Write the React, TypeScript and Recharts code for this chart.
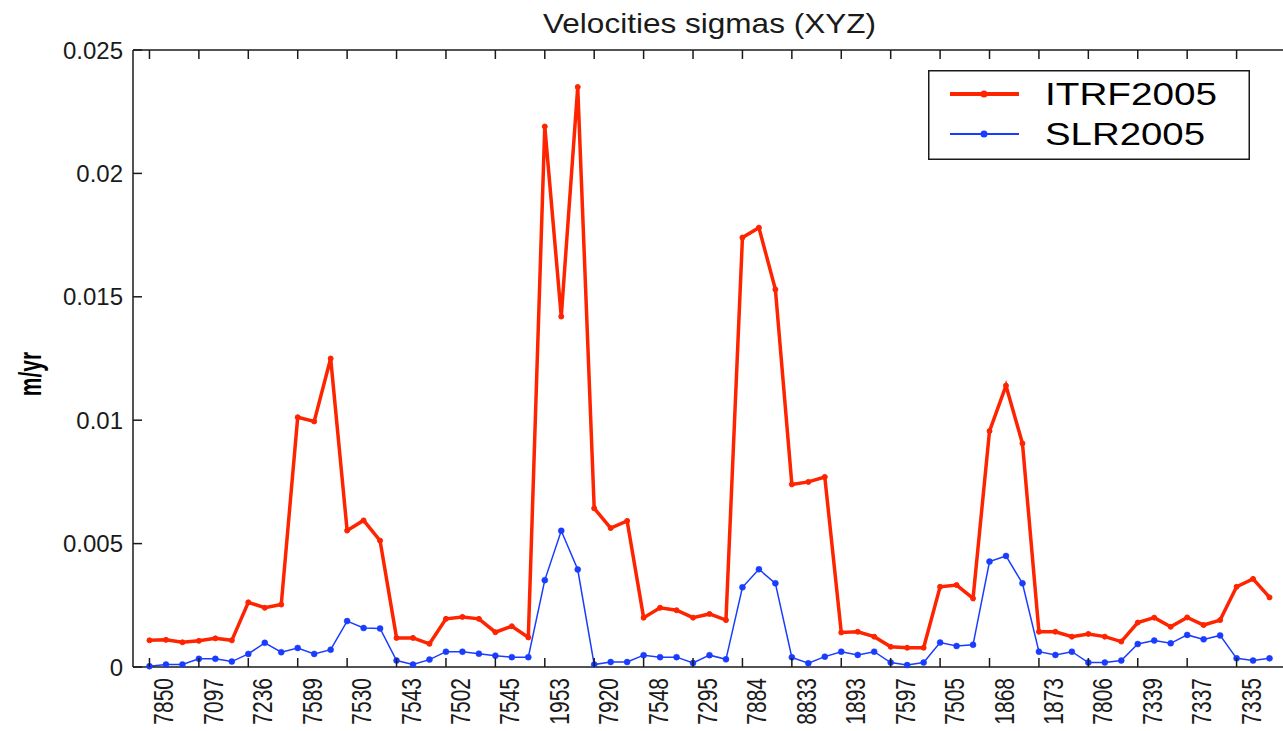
import React from 'react'
import { LineChart, Line, XAxis, YAxis, Legend } from 'recharts'

// station codes shown under every third point
const stations = ['7850', '7097', '7236', '7589', '7530', '7543', '7502', '7545', '1953', '7920', '7548', '7295',
    '7884', '8833', '1893', '7597', '7505', '1868', '1873', '7806', '7339', '7337', '7335']

const itrf2005 = [
    0.00108, 0.0011, 0.001, 0.00106, 0.00116, 0.00108, 0.00262, 0.0024, 0.00253, 0.01012,
    0.00995, 0.0125, 0.00553, 0.00594, 0.00512, 0.00118, 0.00118, 0.00094, 0.00195, 0.00203,
    0.00195, 0.00141, 0.00165, 0.0012, 0.0219, 0.0142, 0.0235, 0.00643, 0.00563, 0.00592,
    0.002, 0.0024, 0.0023, 0.002, 0.00215, 0.0019, 0.0174, 0.0178, 0.0153, 0.0074,
    0.0075, 0.0077, 0.0014, 0.00143, 0.00123, 0.00082, 0.00078, 0.00078, 0.00325, 0.00332,
    0.00278, 0.00956, 0.0114, 0.00906, 0.00143, 0.00143, 0.00123, 0.00134, 0.00123, 0.00103,
    0.0018, 0.002, 0.00163, 0.00201, 0.0017, 0.0019, 0.00325, 0.00357, 0.00282,
]

const slr2005 = [
    0.00003, 0.0001, 0.0001, 0.00033, 0.00033, 0.00022, 0.00053, 0.00098, 0.0006, 0.00077,
    0.00053, 0.0007, 0.00186, 0.00158, 0.00156, 0.00026, 0.0001, 0.0003, 0.00062, 0.00062,
    0.00054, 0.00046, 0.0004, 0.0004, 0.00352, 0.00552, 0.00395, 0.0001, 0.0002, 0.0002,
    0.00048, 0.0004, 0.0004, 0.00016, 0.00048, 0.00031, 0.00323, 0.00396, 0.00339, 0.00039,
    0.00015, 0.00042, 0.00062, 0.00049, 0.00062, 0.00018, 0.00008, 0.00018, 0.00099, 0.00085,
    0.0009, 0.00427, 0.0045, 0.00339, 0.00062, 0.00049, 0.00062, 0.00018, 0.00018, 0.00026,
    0.00093, 0.00107, 0.00096, 0.0013, 0.00112, 0.00128, 0.00035, 0.00026, 0.00035,
]

const yTicks = [0, 0.005, 0.01, 0.015, 0.02, 0.025]

const data = itrf2005.map((v, i) => ({ idx: i + 1, itrf: v, slr: slr2005[i] }))
const xTicks = stations.map((_, k) => 1 + 3 * k)

const RED = '#ff2400'
const BLUE = '#1a3cff'
const INK = '#1a1a1a'
const FONT = '"Liberation Sans", Arial, sans-serif'

const BottomTick = (props: any) => {
    const { x, y, payload } = props
    const label = stations[Math.round((payload.value - 1) / 3)]
    return (
        <g>
            <line x1={x} y1={y} x2={x} y2={y - 9} stroke={INK} strokeWidth={1.5} />
            <text transform={`translate(${x + 24},${y + 11}) scale(1.3,1) rotate(-90)`} textAnchor="end"
                fontSize={21} fontFamily={FONT} fill={INK}>{label}</text>
        </g>
    )
}

const TopTick = (props: any) => {
    const { x, y } = props
    return <line x1={x} y1={y} x2={x} y2={y + 9} stroke={INK} strokeWidth={1.5} />
}

const LeftTick = (props: any) => {
    const { x, y, payload } = props
    return (
        <g>
            <line x1={x} y1={y} x2={x + 9} y2={y} stroke={INK} strokeWidth={1.5} />
            <text x={x - 10} y={y} dy="0.36em" textAnchor="end" fontSize={24} fontFamily={FONT} fill={INK}>
                {String(payload.value)}
            </text>
        </g>
    )
}

const RightTick = (props: any) => {
    const { x, y } = props
    return <line x1={x} y1={y} x2={x - 9} y2={y} stroke={INK} strokeWidth={1.5} />
}

const LegendBox = (props: any) => {
    const items = props.payload || []
    const widths = [172, 160]
    return (
        <svg width={322} height={90}>
            <rect x={0.75} y={0.75} width={320.5} height={88.5} fill="#fff" stroke={INK} strokeWidth={1.5} />
            {items.map((it: any, i: number) => {
                const cy = 24 + i * 40
                return (
                    <g key={it.value}>
                        <line x1={22} x2={91} y1={cy} y2={cy} stroke={it.color} strokeWidth={i === 0 ? 4 : 2} />
                        <circle cx={56} cy={cy} r={3.5} fill={it.color} />
                        <text x={117} y={cy + 11} fontSize={31} fontFamily={FONT} fill="#000"
                            textLength={widths[i]} lengthAdjust="spacingAndGlyphs">{it.value}</text>
                    </g>
                )
            })}
        </svg>
    )
}

const App = () => {
    return (
        <div style={{ position: 'absolute', left: 0, top: 0, width: 1283, height: 731, overflow: 'hidden', background: '#fff' }}>
            <LineChart width={1300} height={731} data={data} margin={{ top: 49, right: 13, bottom: 63, left: 132 }}>
                <XAxis dataKey="idx" type="number" domain={[0, 70]} ticks={xTicks} interval={0} height={1}
                    tickSize={0} tickMargin={0} tickLine={false} axisLine={{ stroke: INK, strokeWidth: 1.5 }} tick={<BottomTick />} />
                <XAxis xAxisId="top" orientation="top" dataKey="idx" type="number" domain={[0, 70]} ticks={xTicks} interval={0}
                    height={1} tickSize={0} tickMargin={0} tickLine={false} axisLine={{ stroke: INK, strokeWidth: 1.5 }} tick={<TopTick />} />
                <YAxis type="number" domain={[0, 0.025]} ticks={yTicks} interval={0} width={1}
                    tickSize={0} tickMargin={0} tickLine={false} axisLine={{ stroke: INK, strokeWidth: 1.5 }} tick={<LeftTick />} />
                <YAxis yAxisId="right" orientation="right" type="number" domain={[0, 0.025]} ticks={yTicks} interval={0} width={1}
                    tickSize={0} tickMargin={0} tickLine={false} axisLine={{ stroke: INK, strokeWidth: 1.5 }} tick={<RightTick />} />
                <Legend layout="vertical" align="center" verticalAlign="middle" content={<LegendBox />}
                    wrapperStyle={{ left: 928, top: 70, width: 322, height: 90 }} />
                <Line name="ITRF2005" dataKey="itrf" stroke={RED} strokeWidth={3.5} isAnimationActive={false}
                    dot={{ r: 2.5, fill: RED, stroke: RED, strokeWidth: 1 }} activeDot={false} />
                <Line name="SLR2005" dataKey="slr" stroke={BLUE} strokeWidth={1.5} isAnimationActive={false}
                    dot={{ r: 3, fill: BLUE, stroke: BLUE, strokeWidth: 0.5 }} activeDot={false} />
            </LineChart>
            <svg width={1283} height={731} style={{ position: 'absolute', left: 0, top: 0, pointerEvents: 'none' }}>
                <text x={709.5} y={33} textAnchor="middle" fontSize={28} fontFamily={FONT} fill={INK}
                    textLength={333} lengthAdjust="spacingAndGlyphs">Velocities sigmas (XYZ)</text>
                <text transform="translate(41,374) scale(1.5,1) rotate(-90)" textAnchor="middle" fontSize={21}
                    fontWeight="bold" fontFamily={FONT} fill="#000">m/yr</text>
            </svg>
        </div>
    )
}

export default App
